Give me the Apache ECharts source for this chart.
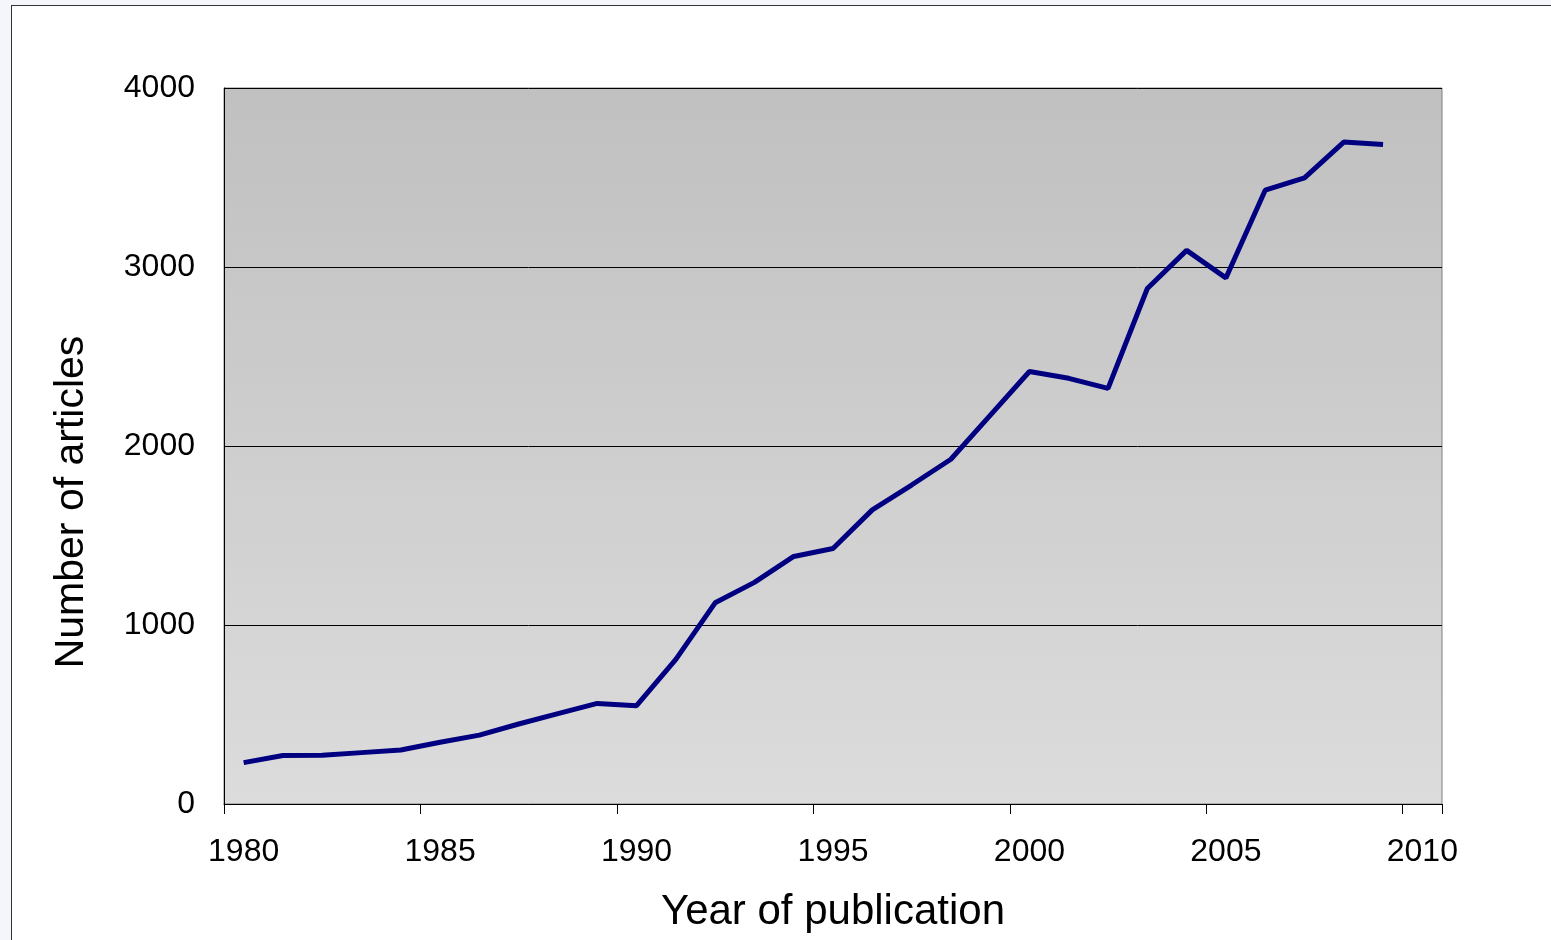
<!DOCTYPE html>
<html>
<head>
<meta charset="utf-8">
<script src="https://cdn.jsdelivr.net/npm/echarts@6/dist/echarts.min.js"></script>
<style>
	body { margin: 0; background: #f5f6fc; }
	#panel { position: absolute; left: 11px; top: 5px; width: 1560px; height: 960px; background: #ffffff; border-left: 1px solid #333333; border-top: 1px solid #333333; }
	#chart { position: absolute; left: 0; top: 0; width: 1551px; height: 940px; }
</style>
</head>
<body>
<div id="panel"></div>
<div id="chart"></div>
<script>
// 年份（类目）和文章数量
var years = ['1980','1981','1982','1983','1984','1985','1986','1987','1988','1989',
	'1990','1991','1992','1993','1994','1995','1996','1997','1998','1999',
	'2000','2001','2002','2003','2004','2005','2006','2007','2008','2009','2010'];
var articles = [231, 271, 272, 287, 302, 345, 385, 447, 505, 562,
	549, 808, 1124, 1238, 1383, 1427, 1643, 1782, 1926, 2171,
	2416, 2378, 2322, 2880, 3093, 2939, 3429, 3498, 3698, 3685];
var yTicks = [0, 4000, 1000]; // min, max, interval

var drawChart = function(){
	var myChart = echarts.init(document.getElementById('chart'));
	window.onresize = myChart.resize;
	var font = '"Liberation Sans", Arial, sans-serif';
	var option = {
		backgroundColor: 'transparent',
		animation: false,
		grid: {
			left: 224,
			top: 88,
			right: 109,
			bottom: 136,
			show: true,
			borderColor: '#808080',
			borderWidth: 1,
			// 背景渐变：上深下浅
			backgroundColor: new echarts.graphic.LinearGradient(0, 0, 0, 1, [
				{offset: 0, color: '#c0c0c0'},
				{offset: 1, color: '#dcdcdc'}
			])
		},
		xAxis: {
			type: 'category',
			data: years,
			boundaryGap: true,
			name: 'Year of publication',
			nameLocation: 'middle',
			nameGap: 87,
			nameTextStyle: { color: '#000', fontSize: 42, fontFamily: font },
			axisLine: { lineStyle: { color: '#000', width: 1 } },
			axisTick: {
				show: true,
				interval: 4,
				length: 10,
				lineStyle: { color: '#000' }
			},
			axisLabel: {
				interval: 4,
				margin: 32,
				color: '#000',
				fontSize: 32,
				fontFamily: font
			},
			splitLine: { show: false }
		},
		yAxis: {
			type: 'value',
			min: yTicks[0],
			max: yTicks[1],
			interval: yTicks[2],
			axisLine: { show: true, lineStyle: { color: '#000', width: 1 } },
			axisTick: { show: false },
			axisLabel: {
				margin: 29,
				color: '#000',
				fontSize: 32,
				fontFamily: font,
				formatter: function (v) { return String(v); }
			},
			splitLine: { show: true, lineStyle: { color: '#000', width: 1, type: 'solid' } }
		},
		graphic: [{
			type: 'text',
			x: 72,
			y: 502,
			rotation: Math.PI / 2,
			style: {
				text: 'Number of articles',
				fill: '#000',
				font: '41px ' + font,
				textAlign: 'center',
				textVerticalAlign: 'middle'
			}
		}],
		series: [{
			type: 'line',
			data: articles,
			symbol: 'none',
			lineStyle: { color: '#000080', width: 5 }
		}]
	};
	myChart.setOption(option);
}

drawChart();
</script>
</body>
</html>
